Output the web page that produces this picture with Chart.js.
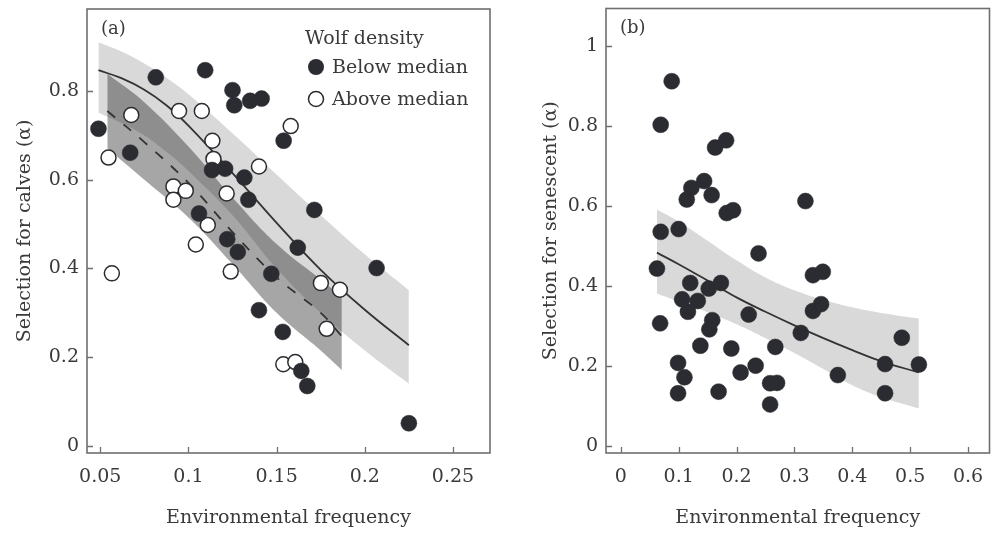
<!DOCTYPE html>
<html>
<head>
<meta charset="utf-8">
<script src="https://cdn.jsdelivr.net/npm/chart.js@4.4.1/dist/chart.umd.min.js"></script>
<style>
  body { margin: 0; background: #fff; width: 998px; height: 533px; overflow: hidden; position: relative; }
  .panel { position: absolute; top: 0; }
  #wrapA { left: 0; }
  #wrapB { left: 505px; }
</style>
</head>
<body>
<div class="panel" id="wrapA"><canvas id="chartA" width="500" height="533"></canvas></div>
<div class="panel" id="wrapB"><canvas id="chartB" width="493" height="533"></canvas></div>
<script>
// ---- panel (a): selection for calves vs environmental frequency ----
const belowX = [0.049, 0.067, 0.0815, 0.106, 0.1095, 0.1134, 0.1208, 0.122, 0.125, 0.126, 0.128, 0.1317, 0.134,
    0.135, 0.140, 0.1415, 0.147, 0.1535, 0.154, 0.162, 0.164, 0.1674, 0.1714, 0.2067, 0.225]
const belowY = [0.715, 0.661, 0.831, 0.524, 0.847, 0.622, 0.625, 0.466, 0.802, 0.768, 0.437, 0.605, 0.555,
    0.778, 0.306, 0.783, 0.388, 0.257, 0.688, 0.447, 0.169, 0.135, 0.532, 0.401, 0.051]
const aboveX = [0.0547, 0.0566, 0.0676, 0.0915, 0.0915, 0.0947, 0.0985, 0.1042, 0.1076, 0.111, 0.1136, 0.1142,
    0.1217, 0.124, 0.140, 0.1538, 0.158, 0.1606, 0.1751, 0.1784, 0.1859]
const aboveY = [0.650, 0.389, 0.746, 0.585, 0.555, 0.755, 0.575, 0.454, 0.755, 0.498, 0.688, 0.647,
    0.569, 0.393, 0.630, 0.184, 0.721, 0.189, 0.367, 0.264, 0.352]

// fitted curves and confidence bands
const fitBelowX = [0.049, 0.062, 0.075, 0.0875, 0.1, 0.125, 0.15, 0.175, 0.2, 0.225]
const fitBelowY = [0.847, 0.829, 0.803, 0.768, 0.722, 0.615, 0.503, 0.397, 0.307, 0.227]
const fitBelowHi = [0.910, 0.889, 0.862, 0.830, 0.793, 0.705, 0.612, 0.520, 0.432, 0.351]
const fitBelowLo = [0.751, 0.728, 0.700, 0.663, 0.620, 0.520, 0.400, 0.300, 0.215, 0.140]
const fitAboveX = [0.054, 0.075, 0.1, 0.125, 0.15, 0.175, 0.187]
const fitAboveY = [0.755, 0.685, 0.593, 0.482, 0.380, 0.300, 0.247]
const fitAboveHi = [0.839, 0.775, 0.675, 0.560, 0.455, 0.375, 0.335]
const fitAboveLo = [0.671, 0.600, 0.515, 0.410, 0.300, 0.215, 0.171]

const xTicksA = [0.05, 0.1, 0.15, 0.2, 0.25]
const yTicksA = [0, 0.2, 0.4, 0.6, 0.8]

// ---- panel (b): selection for senescent ----
const senX = [0.088, 0.069, 0.163, 0.182, 0.144, 0.122, 0.114, 0.157, 0.183, 0.194, 0.319, 0.069, 0.100, 0.238,
    0.0625, 0.068, 0.120, 0.173, 0.152, 0.106, 0.133, 0.116, 0.158, 0.153, 0.1375, 0.099, 0.110, 0.099, 0.169,
    0.191, 0.207, 0.221, 0.233, 0.258, 0.270, 0.258, 0.267, 0.311, 0.332, 0.346, 0.332, 0.349, 0.375, 0.4566,
    0.4566, 0.4855, 0.515]
const senY = [0.913, 0.804, 0.747, 0.765, 0.663, 0.646, 0.617, 0.628, 0.583, 0.590, 0.613, 0.536, 0.543, 0.482,
    0.444, 0.307, 0.408, 0.408, 0.394, 0.367, 0.363, 0.336, 0.315, 0.292, 0.251, 0.208, 0.172, 0.132, 0.136,
    0.244, 0.184, 0.329, 0.201, 0.157, 0.158, 0.104, 0.248, 0.283, 0.338, 0.355, 0.4275, 0.436, 0.1775, 0.205,
    0.132, 0.271, 0.204]
const fitSenX = [0.0625, 0.1, 0.15, 0.2, 0.25, 0.3, 0.35, 0.4, 0.45, 0.515]
const fitSenY = [0.484, 0.455, 0.414, 0.372, 0.336, 0.302, 0.270, 0.240, 0.212, 0.184]
const fitSenHi = [0.592, 0.562, 0.514, 0.465, 0.422, 0.390, 0.366, 0.347, 0.333, 0.319]
const fitSenLo = [0.382, 0.362, 0.335, 0.305, 0.270, 0.233, 0.193, 0.152, 0.122, 0.094]

const xTicksB = [0, 0.1, 0.2, 0.3, 0.4, 0.5, 0.6]
const yTicksB = [0, 0.2, 0.4, 0.6, 0.8, 1]

const INK = '#2a2c31'
const TEXT = '#3a3a3a'
const AXIS = '#6f6f6f'
const SERIF = "'DejaVu Serif', 'Liberation Serif', serif"

const pts = (xs, ys) => xs.map((x, i) => ({ x: x, y: ys[i] }))

const dotSet = (label, xs, ys, open) => ({
    type: 'scatter',
    label: label,
    data: pts(xs, ys),
    order: 0,
    pointRadius: open ? 7.5 : 8,
    pointBackgroundColor: open ? '#ffffff' : INK,
    pointBorderColor: INK,
    pointBorderWidth: open ? 1.5 : 0.5,
    showLine: false,
})
const curveSet = (xs, ys, dash) => ({
    type: 'line',
    data: pts(xs, ys),
    order: 1,
    borderColor: '#333333',
    borderWidth: 1.8,
    borderDash: dash || [],
    pointRadius: 0,
    fill: false,
    tension: 0.4,
})
const bandSet = (xs, ys, fill, colour) => ({
    type: 'line',
    data: pts(xs, ys),
    order: 2,
    borderWidth: 0,
    pointRadius: 0,
    fill: fill,
    backgroundColor: colour,
    tension: 0.4,
})

const xAxis = (min, max, ticks) => ({
    type: 'linear', min: min, max: max,
    afterBuildTicks: s => { s.ticks = ticks.map(v => ({ value: v })) },
    afterFit: s => { s.height = 80; s.paddingLeft = 0; s.paddingRight = 0 },
    ticks: { callback: v => String(v), color: TEXT, font: { family: SERIF, size: 19 }, padding: 13, maxRotation: 0, autoSkip: false },
    grid: { display: false, drawTicks: false },
    border: { display: false },
    title: { display: true, text: 'Environmental frequency', color: TEXT, font: { family: SERIF, size: 19, lineHeight: 1.2 } },
})
const yAxis = (min, max, ticks, title, width) => ({
    type: 'linear', min: min, max: max,
    afterBuildTicks: s => { s.ticks = ticks.map(v => ({ value: v })) },
    afterFit: s => { s.width = width; s.paddingTop = 0; s.paddingBottom = 0 },
    ticks: { callback: v => String(v), color: TEXT, font: { family: SERIF, size: 19 }, padding: 8 },
    grid: { display: false, drawTicks: false },
    border: { display: false },
    title: { display: true, text: title, color: TEXT, font: { family: SERIF, size: 19, lineHeight: 1.2 } },
})

// frame round the plot and short inward tick marks
const framePlugin = {
    id: 'frame',
    afterDraw(chart) {
        const { ctx, chartArea: a, scales } = chart
        ctx.save()
        ctx.strokeStyle = AXIS
        ctx.lineWidth = 1.6
        ctx.strokeRect(a.left, a.top, a.right - a.left, a.bottom - a.top)
        ctx.beginPath()
        scales.x.ticks.forEach(t => {
            const px = Math.round(scales.x.getPixelForValue(t.value)) + 0.5
            ctx.moveTo(px, a.bottom)
            ctx.lineTo(px, a.bottom - 6)
        })
        scales.y.ticks.forEach(t => {
            const py = Math.round(scales.y.getPixelForValue(t.value)) + 0.5
            ctx.moveTo(a.left, py)
            ctx.lineTo(a.left + 6, py)
        })
        ctx.lineWidth = 1.3
        ctx.stroke()
        ctx.restore()
    }
}

const tagPlugin = {
    id: 'tag',
    afterDraw(chart, args, opts) {
        const { ctx, chartArea: a } = chart
        ctx.save()
        ctx.fillStyle = TEXT
        ctx.font = '18px ' + SERIF
        ctx.textBaseline = 'middle'
        ctx.fillText(opts.text, a.left + 14, a.top + 20)
        if (opts.legend) {
            const lx = a.left + 218
            ctx.font = '19px ' + SERIF
            ctx.fillText('Wolf density', lx, a.top + 30)
            opts.legend.forEach((item, i) => {
                const cy = a.top + 58 + i * 32
                ctx.beginPath()
                ctx.arc(lx + 11, cy, item.open ? 7.5 : 8, 0, Math.PI * 2)
                ctx.fillStyle = item.open ? '#ffffff' : INK
                ctx.fill()
                ctx.lineWidth = 1.5
                ctx.strokeStyle = INK
                if (item.open) ctx.stroke()
                ctx.fillStyle = TEXT
                ctx.fillText(item.label, lx + 27, cy + 1)
            })
        }
        ctx.restore()
    }
}

const baseOptions = {
    responsive: false,
    animation: false,
    events: [],
}

new Chart(document.getElementById('chartA'), {
    type: 'scatter',
    data: {
        datasets: [
            dotSet('Below median', belowX, belowY, false),
            dotSet('Above median', aboveX, aboveY, true),
            curveSet(fitBelowX, fitBelowY),
            curveSet(fitAboveX, fitAboveY, [10, 11]),
            bandSet(fitBelowX, fitBelowHi, '+1', 'rgba(0,0,0,0.15)'),
            bandSet(fitBelowX, fitBelowLo, false, 'rgba(0,0,0,0)'),
            bandSet(fitAboveX, fitAboveHi, '+1', 'rgba(0,0,0,0.35)'),
            bandSet(fitAboveX, fitAboveLo, false, 'rgba(0,0,0,0)'),
        ]
    },
    options: {
        ...baseOptions,
        layout: { padding: { left: 10, top: 8, right: 10, bottom: 0 } },
        scales: {
            x: xAxis(0.0425, 0.271, xTicksA),
            y: yAxis(-0.016, 0.985, yTicksA, 'Selection for calves (α)', 77),
        },
        plugins: {
            legend: { display: false },
            tooltip: { enabled: false },
            tag: {
                text: '(a)',
                legend: [{ label: 'Below median', open: false }, { label: 'Above median', open: true }],
            },
        },
    },
    plugins: [framePlugin, tagPlugin],
})

new Chart(document.getElementById('chartB'), {
    type: 'scatter',
    data: {
        datasets: [
            dotSet('Senescent', senX, senY, false),
            curveSet(fitSenX, fitSenY),
            bandSet(fitSenX, fitSenHi, '+1', 'rgba(0,0,0,0.15)'),
            bandSet(fitSenX, fitSenLo, false, 'rgba(0,0,0,0)'),
        ]
    },
    options: {
        ...baseOptions,
        layout: { padding: { left: 31, top: 8, right: 3, bottom: 0 } },
        scales: {
            x: xAxis(-0.0255, 0.637, xTicksB),
            y: yAxis(-0.0175, 1.095, yTicksB, 'Selection for senescent (α)', 70),
        },
        plugins: {
            legend: { display: false },
            tooltip: { enabled: false },
            tag: { text: '(b)' },
        },
    },
    plugins: [framePlugin, tagPlugin],
})
</script>
</body>
</html>
